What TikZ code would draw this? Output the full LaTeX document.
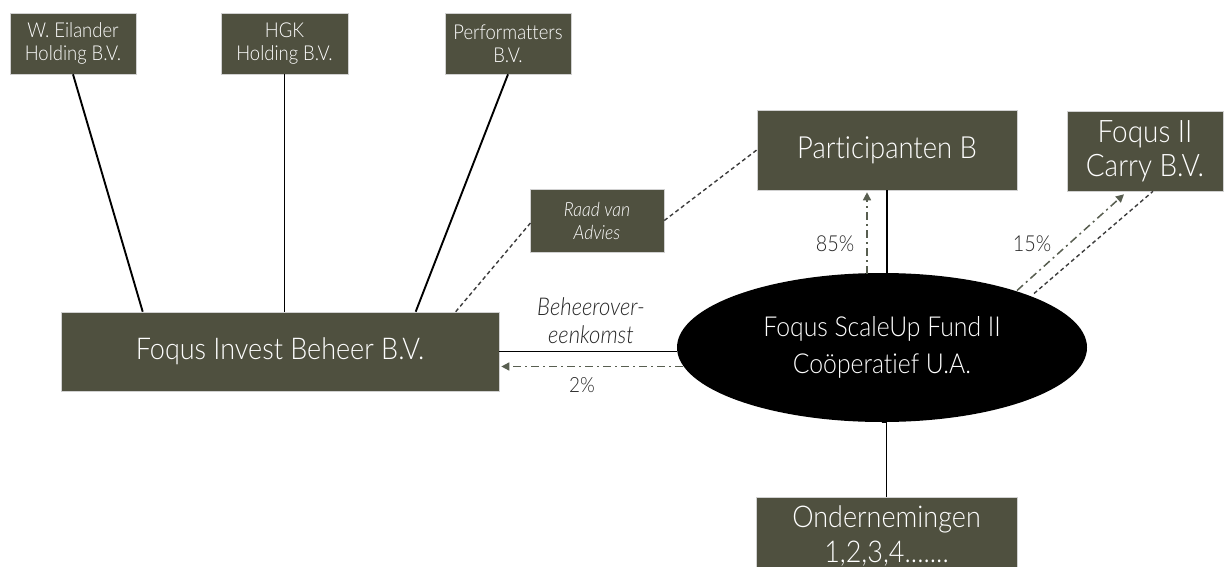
\documentclass[tikz,border=0pt]{standalone}
\usepackage{fontspec}
\setmainfont{Lato}[UprightFont=* Light, ItalicFont=* Light Italic, FakeStretch=0.9, Ligatures={NoCommon}]
\usetikzlibrary{arrows.meta,calc,shapes.geometric}
\definecolor{boxc}{RGB}{79,80,63}
\definecolor{arrc}{RGB}{88,94,80}
\definecolor{dashc}{RGB}{60,60,60}
\begin{document}
\begin{tikzpicture}[x=1pt,y=-1pt,
  box/.style={fill=boxc, draw=black!18, line width=0.6pt, text=white, align=center, inner sep=0pt},
  solidline/.style={draw=black, line width=1.9pt},
  dashline/.style={draw=dashc, line width=1.4pt, dash pattern=on 4pt off 3pt},
  flowarrow/.style={draw=arrc, line width=1.5pt, dash pattern=on 8pt off 4pt on 2pt off 4pt, -{Triangle[width=8pt,length=8pt]}},
  lbl/.style={text=black!85, inner sep=0pt, align=center}]
\useasboundingbox (0,0) rectangle (1228,567);
% nodes
\node[box, minimum width=126pt, minimum height=61pt, font=\fontsize{20.5}{23}\selectfont] (eil) at (73,43.5) {W. Eilander\\Holding B.V.};
\node[box, minimum width=127pt, minimum height=61pt, font=\fontsize{20.5}{23}\selectfont] (hgk) at (284.5,43.5) {HGK\\Holding B.V.};
\node[box, minimum width=126pt, minimum height=61pt, font=\fontsize{20.5}{23}\selectfont] (perf) at (508,43.5) {Performatters\\B.V.};
\node[box, minimum width=438pt, minimum height=79pt, font=\fontsize{30}{36}\selectfont] (fib) at (280,351.5) {Foqus Invest Beheer B.V.};
\node[box, minimum width=134pt, minimum height=63pt, font=\itshape\fontsize{19.5}{23}\selectfont] (raad) at (597,220.5) {Raad van\\Advies};
\node[box, minimum width=260pt, minimum height=80pt, font=\fontsize{30.5}{36}\selectfont] (part) at (887,150) {Participanten B};
\node[box, minimum width=156pt, minimum height=80pt, font=\fontsize{31}{34}\selectfont] (carry) at (1145,151) {Foqus II\\Carry B.V.};
\node[ellipse, fill=black, text=white, align=center, inner sep=0pt, minimum width=410pt, minimum height=149pt, font=\fontsize{27.5}{37}\selectfont] (fund) at (882,347.5) {Foqus ScaleUp Fund II\\Coöperatief U.A.};
\node[box, minimum width=261pt, minimum height=78pt, font=\fontsize{30}{35}\selectfont] (ond) at (886.5,536) {Ondernemingen\\1,2,3,4.......};
% connectors
\draw[solidline] (eil.south) -- ($(fib.north west)+(82,0)$);
\draw[solidline] (hgk.south) -- (hgk.south |- fib.north);
\draw[solidline] (perf.south) -- ($(fib.north west)+(355,0)$);
\draw[dashline] ($(fib.north west)+(395,0)$) -- ($(raad.west)+(2,1)$);
\draw[dashline] (raad.east) -- (part.west);
\draw[solidline] (fib.east) -- (fib.east -| fund.west);
\draw[flowarrow] ($(fund.west)+(6,19)$) -- ($(fib.east)+(2,15)$);
\draw[solidline] (part.south) -- (part.south |- fund.north);
\draw[flowarrow] ($(fund.north)+(-15,1)$) -- ($(part.south)+(-20,2)$);
\draw[flowarrow] ($(fund.center)+(135,-57)$) -- ($(carry.south)+(-21,3)$);
\draw[dashline] ($(fund.center)+(152,-54)$) -- ($(carry.south)+(8,0)$);
\draw[solidline] (fund.south) -- (fund.south -| ond.north) -- (ond.north);
% labels
\node[lbl, font=\itshape\fontsize{24.5}{28}\selectfont] (beh) at (591,321) {Beheerover-\\eenkomst};
\node[lbl, font=\fontsize{21}{24}\selectfont] (p2) at (582,385) {2\%};
\node[lbl, font=\fontsize{22}{24}\selectfont] (p85) at (835,244) {85\%};
\node[lbl, font=\fontsize{22}{24}\selectfont] (p15) at (1032,244) {15\%};
\end{tikzpicture}
\end{document}
